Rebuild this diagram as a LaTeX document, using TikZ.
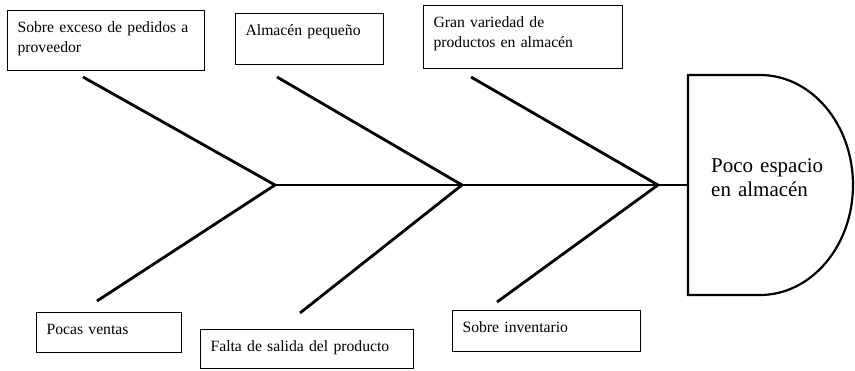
\documentclass[tikz,border=0pt]{standalone}
\usepackage{fontspec}
\setmainfont{Liberation Serif}
\usepackage{tikz}
\tikzstyle{cause} = [
  draw,
  rectangle,
  line width=1.1pt,
  anchor=north west,
  align=left,
  inner xsep=10pt,
  inner ysep=0pt,
  text height=22pt,
  font=\fontsize{15.7}{20}\selectfont,
]
\tikzstyle{bone} = [
  line width=2.8pt,
]
\tikzstyle{effect} = [
  draw,
  line width=2.2pt,
]

\begin{document}
\begin{tikzpicture}[
    x=1pt,
    y=-1pt,
  ]
  \useasboundingbox (0,0) rectangle (855,371);
  \node[cause, text width=177pt, text depth=38pt]
  (exceso) at (7,10) {Sobre exceso de pedidos a\\proveedor};
  \node[cause, text width=128pt, text depth=29pt]
  (almacen) at (235,13) {Almacén pequeño};
  \node[cause, text width=179pt, text depth=41pt]
  (variedad) at (423,5) {Gran variedad de\\productos en almacén};
  \node[cause, text width=125pt, text depth=18pt]
  (ventas) at (36,312) {Pocas ventas};
  \node[cause, text width=193pt, text depth=17pt]
  (salida) at (200,329) {Falta de salida del producto};
  \node[cause, text width=168pt, text depth=19pt]
  (inventario) at (452,310) {Sobre inventario};
  \coordinate (j1) at (275,185);
  \coordinate (j2) at (462,185);
  \coordinate (j3) at (658,185);
  \coordinate (t1) at (83,77);
  \coordinate (t2) at (277,77);
  \coordinate (t3) at (471,77);
  \coordinate (b1) at (97,301);
  \coordinate (b2) at (300,313);
  \coordinate (b3) at (497,302);
  \coordinate (spine) at (688,185);
  \draw[effect] (688,75) -- (760,75)
    arc[start angle=90, end angle=-90, x radius=93pt, y radius=110pt]
    -- (688,295) -- cycle;
  \node[
    anchor=base west,
    align=left,
    text width=130pt,
    inner sep=0pt,
    font=\fontsize{21}{24}\selectfont,
  ](espacio) at (711,173) {Poco espacio\\en almacén};
  \draw[bone] (j1) -- (spine);
  \draw[bone] (t1) -- (j1) -- (b1);
  \draw[bone] (t2) -- (j2) -- (b2);
  \draw[bone] (t3) -- (j3) -- (b3);
\end{tikzpicture}
\end{document}
